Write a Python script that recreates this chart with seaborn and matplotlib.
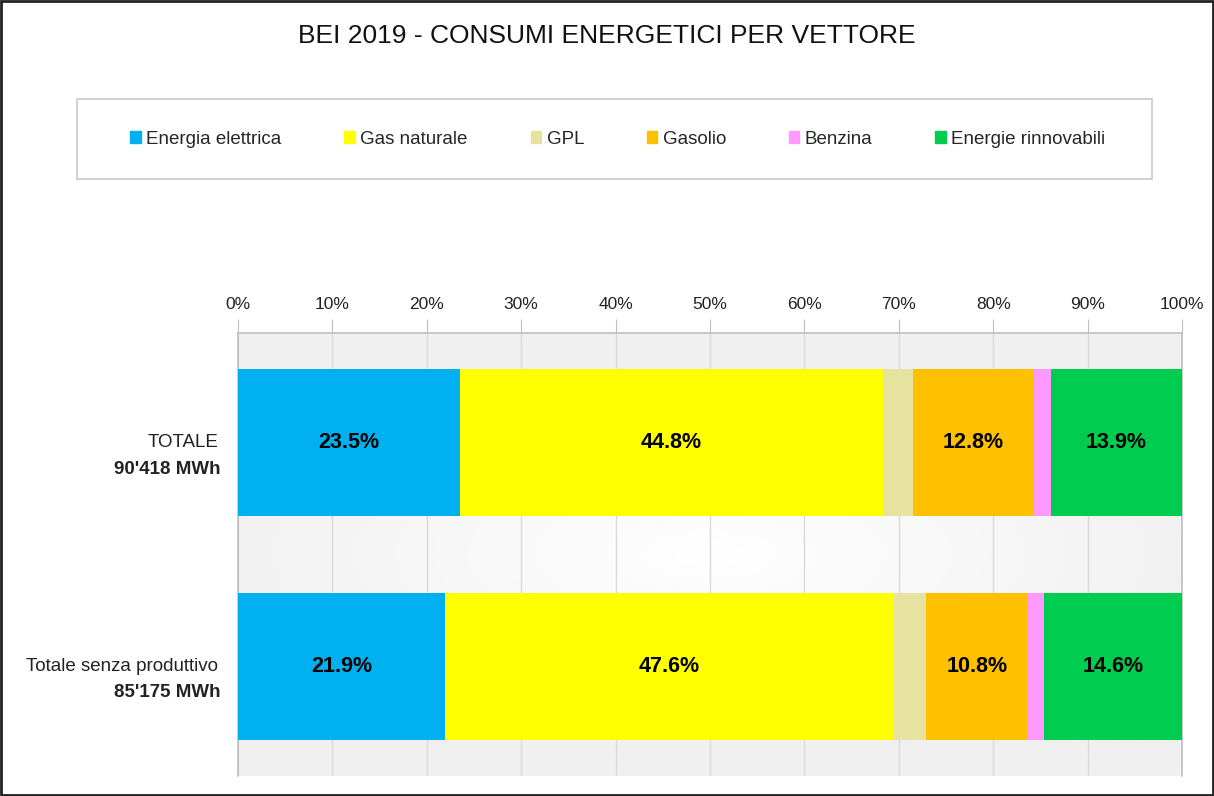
import matplotlib
matplotlib.use("Agg")
import matplotlib.pyplot as plt
from matplotlib.colors import LinearSegmentedColormap
from matplotlib.patches import Patch, Rectangle
import numpy as np
import seaborn as sns

# data
categories = ["TOTALE", "Totale senza produttivo"]
totals = ["90'418 MWh", "85'175 MWh"]
series = ["Energia elettrica", "Gas naturale", "GPL", "Gasolio", "Benzina", "Energie rinnovabili"]
values = {
    "Energia elettrica": [23.5, 21.9],
    "Gas naturale": [44.8, 47.6],
    "GPL": [3.2, 3.4],
    "Gasolio": [12.8, 10.8],
    "Benzina": [1.8, 1.7],
    "Energie rinnovabili": [13.9, 14.6],
}
labelled = ["Energia elettrica", "Gas naturale", "Gasolio", "Energie rinnovabili"]
colors = ["#00B0F0", "#FFFF00", "#E6E3A0", "#FFC000", "#FF99FF", "#00CC50"]

sns.set_style("white")
plt.rcParams["font.family"] = ["Liberation Sans", "DejaVu Sans"]

W, H = 1214, 796
fig = plt.figure(figsize=(W / 100, H / 100), dpi=100)
ax = fig.add_axes([238 / W, 1 - 776 / H, (1182 - 238) / W, (776 - 333) / H])

# soft background like the original plot area
yy, xx = np.mgrid[-1:1:200j, -1:1:200j]
r = np.sqrt((xx * 0.85) ** 2 + (yy * 1.1) ** 2)
bg_cmap = LinearSegmentedColormap.from_list("bg", ["#ffffff", "#f7f7f7", "#f0f0f0"])
ax.imshow(np.clip(r, 0, 1), cmap=bg_cmap, vmin=0, vmax=1, extent=(0, 100, 1.49, -0.49),
          aspect="auto", zorder=0, interpolation="bilinear")

# stacked bars: draw cumulative sums from the last series back to the first
cum = np.cumsum([values[s] for s in series], axis=0)
for i in range(len(series) - 1, -1, -1):
    sns.barplot(x=cum[i], y=categories, color=colors[i], orient="h", width=0.66,
                saturation=1, linewidth=0, ax=ax, zorder=3)

for i, s in enumerate(series):
    if s not in labelled:
        continue
    for j in range(len(categories)):
        v = values[s][j]
        ax.text(cum[i][j] - v / 2, j, f"{v:.1f}%", ha="center", va="center",
                fontsize=15.5, fontweight="bold", color="black", zorder=5)

ax.set_xlim(0, 100)
ax.set_ylim(1.49, -0.49)
ax.set_xticks(range(0, 101, 10))
ax.set_xticklabels([f"{t}%" for t in range(0, 101, 10)])
ax.xaxis.tick_top()
ax.tick_params(axis="x", top=True, bottom=False, length=10, color="#bfbfbf",
               labelsize=12.5, pad=5, labelcolor="#222222")
ax.set_yticks([])
ax.set_xlabel("")
ax.set_ylabel("")
ax.grid(axis="x", color="#d9d9d9", linewidth=1, zorder=1)
ax.set_axisbelow(True)
for side in ["top", "left", "right", "bottom"]:
    ax.spines[side].set_color("#bfbfbf")
    ax.spines[side].set_linewidth(1.2)
ax.spines["bottom"].set_visible(False)

for j, (c, t) in enumerate(zip(categories, totals)):
    ax.text(-0.021, j, c, transform=ax.get_yaxis_transform(), ha="right",
            va="center", fontsize=13.5, color="#222222")
    ax.text(-0.019, j + 0.118, t, transform=ax.get_yaxis_transform(), ha="right",
            va="center", fontsize=13.5, fontweight="bold", color="#222222")

fig.text(607 / W, 1 - 36 / H, "BEI 2019 - CONSUMI ENERGETICI PER VETTORE",
         ha="center", va="center", fontsize=19, color="#111111")

# legend box
fig.patches.append(Rectangle((77 / W, 1 - 179 / H), 1075 / W, 80 / H,
                             transform=fig.transFigure, facecolor="white",
                             edgecolor="#c8c8c8", linewidth=1.2))
handles = [Patch(facecolor=c, edgecolor=c) for c in colors]
fig.legend(handles, series, loc="center", ncol=6, frameon=False, fontsize=13.5,
           handlelength=0.55, handleheight=0.55, handletextpad=0.3,
           columnspacing=3.35, bbox_to_anchor=(618 / W, 1 - 139 / H))

# outer frame
fig.patches.append(Rectangle((0.001, 0.001), 0.998, 0.998, transform=fig.transFigure,
                             fill=False, edgecolor="#222222", linewidth=2))

fig.savefig("out.png", dpi=100)
